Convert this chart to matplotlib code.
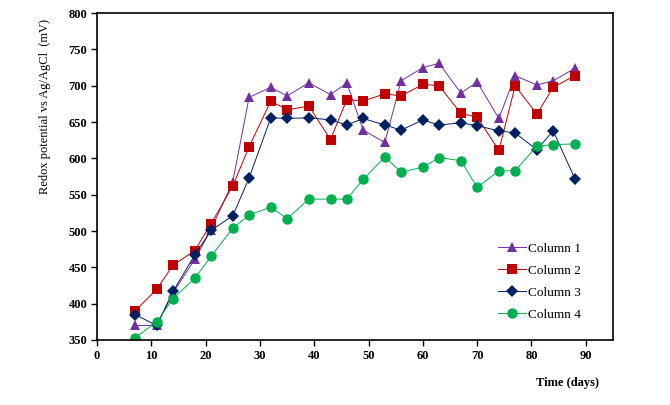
import matplotlib.pyplot as plt

days = [7, 11, 14, 18, 21, 25, 28, 32, 35, 39, 43, 46, 49, 53, 56, 60, 63, 67, 70, 74, 77, 81, 84, 88]

column1 = [370, 370, 415, 461, 502, 568, 684, 698, 686, 704, 688, 704, 639, 622, 707, 725, 731, 690, 705, 655, 714, 701, 707, 724]
column2 = [390, 420, 453, 473, 510, 562, 616, 679, 667, 672, 626, 681, 679, 689, 686, 702, 700, 662, 657, 611, 700, 661, 698, 714]
column3 = [385, 370, 417, 467, 501, 521, 573, 656, 655, 656, 653, 646, 655, 646, 639, 653, 646, 649, 645, 638, 635, 612, 638, 572]
column4 = [353, 375, 407, 435, 465, 504, 522, 533, 517, 544, 544, 544, 571, 602, 581, 588, 601, 597, 560, 583, 583, 617, 619, 620]

labels = ["Column 1", "Column 2", "Column 3", "Column 4"]
colors = ["#7030A0", "#C00000", "#002060", "#00B050"]
markers = ["^", "s", "D", "o"]
msizes = [7.5, 7.5, 6, 7.5]

plt.rcParams['font.family'] = ['Liberation Serif', 'DejaVu Serif']

fig = plt.figure(figsize=(6.7, 4.05), dpi=100)
ax = fig.add_axes([0.1448, 0.1605, 0.770, 0.807])

for vals, lab, c, m, ms in zip([column1, column2, column3, column4], labels, colors, markers, msizes):
    ax.plot(days, vals, color=c, marker=m, markersize=ms, linewidth=0.7,
            markeredgewidth=0, label=lab)

ax.set_xlim(0, 95)
ax.set_ylim(350, 800)
ax.set_xticks(range(0, 91, 10))
ax.set_yticks(range(350, 801, 50))
ax.tick_params(direction='out', length=4, width=1, labelsize=9, pad=3)
for t in ax.get_xticklabels() + ax.get_yticklabels():
    t.set_fontweight('bold')
for s in ax.spines.values():
    s.set_linewidth(1.2)

ax.set_ylabel("Redox potential vs Ag/AgCl  (mV)", fontsize=9)
ax.yaxis.set_label_coords(-0.09, 0.715)
fig.text(568 / 670, 1 - 383 / 405, "Time (days)", fontsize=9, fontweight='bold',
         ha='center', va='center')

leg = ax.legend(loc='lower right', bbox_to_anchor=(0.962, 0.022), frameon=False,
                fontsize=9.5, handlelength=2.1, labelspacing=0.75, handletextpad=0.2)

fig.savefig("out.png", dpi=100)
